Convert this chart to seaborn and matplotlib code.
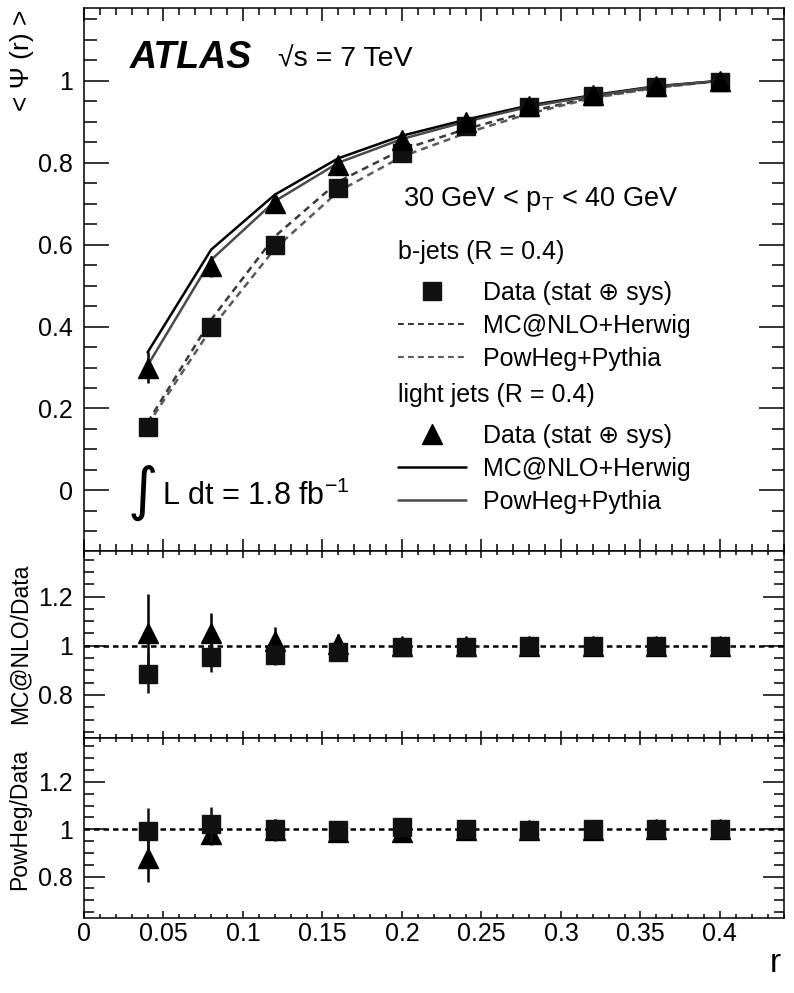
import numpy as np
import pandas as pd
import seaborn as sns
import matplotlib.pyplot as plt
import matplotlib.ticker as ticker
from matplotlib.lines import Line2D

# jet shape data, 30 GeV < pT < 40 GeV
r = [0.04, 0.08, 0.12, 0.16, 0.20, 0.24, 0.28, 0.32, 0.36, 0.40]

bjet_data = [0.154, 0.398, 0.600, 0.739, 0.824, 0.890, 0.936, 0.964, 0.986, 0.998]
bjet_err = [0.010, 0.012, 0.012, 0.010, 0.008, 0.006, 0.005, 0.004, 0.003, 0.0]
light_data = [0.300, 0.547, 0.702, 0.795, 0.856, 0.900, 0.939, 0.965, 0.987, 1.000]
light_err = [0.038, 0.025, 0.020, 0.015, 0.012, 0.010, 0.006, 0.005, 0.003, 0.0]

bjet_mcnlo = [0.166, 0.417, 0.620, 0.754, 0.832, 0.882, 0.925, 0.960, 0.984, 1.000]
bjet_powheg = [0.160, 0.395, 0.590, 0.730, 0.815, 0.872, 0.920, 0.958, 0.983, 1.000]
light_mcnlo = [0.337, 0.588, 0.722, 0.811, 0.866, 0.905, 0.940, 0.965, 0.987, 1.000]
light_powheg = [0.305, 0.563, 0.706, 0.800, 0.858, 0.900, 0.937, 0.963, 0.986, 1.000]

# MC@NLO / Data
rat_mcnlo_b = [0.887, 0.953, 0.962, 0.976, 0.993, 0.996, 0.997, 0.999, 1.000, 1.000]
rat_mcnlo_b_err = [0.078, 0.060, 0.040, 0.020, 0.010, 0.008, 0.005, 0.004, 0.002, 0.0]
rat_mcnlo_l = [1.050, 1.050, 1.020, 1.007, 1.000, 1.000, 1.000, 1.000, 1.000, 1.000]
rat_mcnlo_l_err = [0.160, 0.085, 0.055, 0.040, 0.020, 0.010, 0.008, 0.005, 0.003, 0.0]

# PowHeg / Data
rat_powheg_b = [0.994, 1.020, 1.000, 0.997, 1.008, 1.000, 0.998, 1.000, 1.000, 1.000]
rat_powheg_b_err = [0.095, 0.075, 0.045, 0.020, 0.010, 0.008, 0.005, 0.004, 0.002, 0.0]
rat_powheg_l = [0.877, 0.980, 0.997, 0.990, 0.990, 0.995, 0.997, 0.998, 1.000, 1.000]
rat_powheg_l_err = [0.100, 0.046, 0.045, 0.030, 0.020, 0.010, 0.008, 0.005, 0.003, 0.0]

sns.set_style("ticks")
plt.rcParams['font.family'] = ['Liberation Sans', 'DejaVu Sans']
plt.rcParams['mathtext.fontset'] = 'custom'
plt.rcParams['mathtext.rm'] = 'Liberation Sans'
plt.rcParams['mathtext.it'] = 'Liberation Sans:italic'
plt.rcParams['axes.linewidth'] = 1.1
plt.rcParams['text.color'] = 'black'
plt.rcParams['axes.edgecolor'] = 'black'

fig = plt.figure(figsize=(7.94, 9.93), dpi=100)
ax0 = fig.add_axes([0.1058, 0.4451, 0.8816, 0.5469])
ax1 = fig.add_axes([0.1058, 0.2568, 0.8816, 0.1883], sharex=ax0)
ax2 = fig.add_axes([0.1058, 0.0755, 0.8816, 0.1813], sharex=ax0)

dash = (0, (2.8, 2.0))
c_b_nlo = '#3a3a3a'
c_b_pow = '#5a5a5a'
c_l_nlo = 'black'
c_l_pow = '#4a4a4a'

# MC curves
sns.lineplot(x=r, y=bjet_mcnlo, ax=ax0, color=c_b_nlo, linestyle=dash, lw=1.8, estimator=None)
sns.lineplot(x=r, y=bjet_powheg, ax=ax0, color=c_b_pow, linestyle=dash, lw=1.8, estimator=None)
sns.lineplot(x=r, y=light_mcnlo, ax=ax0, color=c_l_nlo, lw=1.8, estimator=None)
sns.lineplot(x=r, y=light_powheg, ax=ax0, color=c_l_pow, lw=1.8, estimator=None)

# data points
ax0.errorbar(r, bjet_data, yerr=bjet_err, fmt='s', color='#111111', ms=13, elinewidth=1.8, capsize=0, zorder=5)
ax0.errorbar(r, light_data, yerr=light_err, fmt='^', color='black', ms=14, elinewidth=1.8, capsize=0, zorder=6)

for ax, rb, rbe, rl, rle in [(ax1, rat_mcnlo_b, rat_mcnlo_b_err, rat_mcnlo_l, rat_mcnlo_l_err),
                             (ax2, rat_powheg_b, rat_powheg_b_err, rat_powheg_l, rat_powheg_l_err)]:
    ax.axhline(1.0, color='black', ls=(0, (2.2, 1.6)), lw=1.8, zorder=1)
    ax.errorbar(r, rl, yerr=rle, fmt='^', color='black', ms=14, elinewidth=1.8, capsize=0, zorder=4)
    ax.errorbar(r, rb, yerr=rbe, fmt='s', color='#111111', ms=13, elinewidth=1.8, capsize=0, zorder=5)
    ax.set_ylim(0.625, 1.385)
    ax.yaxis.set_major_locator(ticker.MultipleLocator(0.2))
    ax.yaxis.set_minor_locator(ticker.MultipleLocator(0.05))

fmt = ticker.FuncFormatter(lambda v, p: f"{round(v, 3) + 0.0:g}")

ax0.set_xlim(0, 0.4403)
ax0.set_ylim(-0.148, 1.178)
ax0.yaxis.set_major_locator(ticker.MultipleLocator(0.2))
ax0.yaxis.set_minor_locator(ticker.MultipleLocator(0.05))
ax0.xaxis.set_major_locator(ticker.MultipleLocator(0.05))
ax0.xaxis.set_minor_locator(ticker.MultipleLocator(0.01))

for ax in [ax0, ax1, ax2]:
    ax.xaxis.set_major_formatter(fmt)
    ax.yaxis.set_major_formatter(fmt)
    ax.tick_params(which='both', direction='in', top=True, right=True, width=1.1,
                   labelsize=18, colors='black')
    ax.tick_params(axis='y', pad=8)
    ax.set_xlabel('')
    ax.set_ylabel('')

ax0.tick_params(axis='y', which='major', length=18)
ax0.tick_params(axis='y', which='minor', length=9)
ax0.tick_params(axis='x', which='major', length=9)
ax0.tick_params(axis='x', which='minor', length=5)
for ax in [ax1, ax2]:
    ax.tick_params(axis='y', which='major', length=15)
    ax.tick_params(axis='y', which='minor', length=7.5)
    ax.tick_params(axis='x', which='major', length=5)
    ax.tick_params(axis='x', which='minor', length=3)
ax0.tick_params(labelbottom=False)
ax1.tick_params(labelbottom=False)
ax2.tick_params(axis='x', pad=3)

# legends
h_sq = Line2D([], [], marker='s', ls='none', color='#111111', ms=13)
h_tri = Line2D([], [], marker='^', ls='none', color='black', ms=14)
h_bn = Line2D([], [], color=c_b_nlo, ls=dash, lw=1.5)
h_bp = Line2D([], [], color=c_b_pow, ls=dash, lw=1.5)
h_ln = Line2D([], [], color=c_l_nlo, lw=1.8)
h_lp = Line2D([], [], color=c_l_pow, lw=1.8)
labels = ['Data (stat \u2295 sys)', 'MC@NLO+Herwig', 'PowHeg+Pythia']
leg_kw = dict(loc='upper left', frameon=False, fontsize=18, title_fontsize=18, alignment='left',
              handlelength=2.7, handletextpad=0.68, labelspacing=0.36, borderpad=0, borderaxespad=0)
leg1 = ax0.legend([h_sq, h_bn, h_bp], labels, title='b-jets (R = 0.4)',
                  bbox_to_anchor=(0.449, 0.573), **leg_kw)
leg1._legend_box.sep = 12
ax0.add_artist(leg1)
leg2 = ax0.legend([h_tri, h_ln, h_lp], labels, title='light jets (R = 0.4)',
                  bbox_to_anchor=(0.449, 0.309), **leg_kw)
leg2._legend_box.sep = 12

# annotations
ax0.text(0.066, 0.908, 'ATLAS', transform=ax0.transAxes, fontsize=27, fontweight='bold',
         fontstyle='italic', ha='left', va='center')
ax0.text(0.277, 0.905, '\u221As = 7 TeV', transform=ax0.transAxes, fontsize=20.5,
         ha='left', va='center')
ax0.text(0.455, 0.648, r'30 GeV < p$_{\mathrm{T}}$ < 40 GeV', transform=ax0.transAxes,
         fontsize=19.5, ha='left', va='center')
ax0.text(0.062, 0.108, '\u222B', transform=ax0.transAxes, fontsize=42, family='DejaVu Sans',
         ha='left', va='center')
ax0.text(0.111, 0.100, r'L dt = 1.8 fb$^{-1}$', transform=ax0.transAxes, fontsize=22,
         ha='left', va='center')

fig.text(0.028, 0.990, '< \u03A8 (r) >', rotation=90, fontsize=19, ha='center', va='top')
fig.text(0.025, 0.432, 'MC@NLO/Data', rotation=90, fontsize=16.5, ha='center', va='top')
fig.text(0.025, 0.246, 'PowHeg/Data', rotation=90, fontsize=16.5, ha='center', va='top')
fig.text(0.976, 0.030, 'r', fontsize=24, ha='center', va='center')

fig.savefig('out.png', dpi=100)
